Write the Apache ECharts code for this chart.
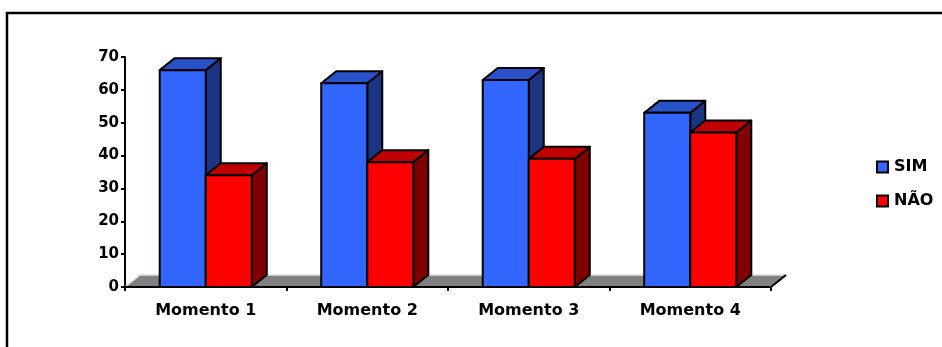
<!DOCTYPE html>
<html>
<head>
<meta charset="utf-8">
<script src="https://cdn.jsdelivr.net/npm/echarts@6/dist/echarts.min.js"></script>
<style>
html,body{margin:0;padding:0;background:#fff;}
#chart{width:942px;height:347px;}
</style>
</head>
<body>
<div id="chart"></div>
<script>
var categories = ['Momento 1', 'Momento 2', 'Momento 3', 'Momento 4'];
var simValues = [66, 62, 63, 53];
var naoValues = [34, 38, 39, 47];
var yTicks = [0, 10, 20, 30, 40, 50, 60, 70];

// profundidade do efeito 3D (px)
var DX = 15, DY = -12;
var FONT = 'DejaVu Sans';

function bar3d(slot, front, topc, side){
	return function(params, api){
		var base = api.coord([api.value(0), 0]);
		var top = api.coord([api.value(0), api.value(1)]);
		var bw = api.size([1, 0])[0] * 0.285;
		var x0 = base[0] + slot * bw;
		var st = {stroke: '#000', lineWidth: 2, lineJoin: 'round'};
		return {
			type: 'group',
			children: [{
				type: 'polygon',
				shape: {points: [[x0 + bw, top[1]], [x0 + bw + DX, top[1] + DY], [x0 + bw + DX, base[1] + DY], [x0 + bw, base[1]]]},
				style: Object.assign({fill: side}, st)
			}, {
				type: 'polygon',
				shape: {points: [[x0, top[1]], [x0 + DX, top[1] + DY], [x0 + bw + DX, top[1] + DY], [x0 + bw, top[1]]]},
				style: Object.assign({fill: topc}, st)
			}, {
				type: 'rect',
				shape: {x: x0, y: top[1], width: bw, height: base[1] - top[1]},
				style: Object.assign({fill: front}, st)
			}]
		};
	};
}

function floor(params, api){
	var c = params.coordSys;
	var yb = c.y + c.height;
	return {
		type: 'group',
		children: [{
			type: 'polygon',
			shape: {points: [[c.x, yb], [c.x + DX, yb + DY], [c.x + c.width + DX, yb + DY], [c.x + c.width, yb]]},
			style: {fill: '#808080'}
		}, {
			type: 'polyline',
			shape: {points: [[c.x, yb], [c.x + DX, yb + DY], [c.x + c.width + DX, yb + DY]]},
			style: {stroke: '#e0e0e0', lineWidth: 1.5, fill: null}
		}, {
			type: 'line',
			shape: {x1: c.x + c.width, y1: yb, x2: c.x + c.width + DX, y2: yb + DY},
			style: {stroke: '#000', lineWidth: 2}
		}]
	};
}

var myChart = echarts.init(document.getElementById('chart'));
var option = {
	animation: false,
	textStyle: {fontFamily: FONT, fontWeight: 'bold', color: '#000'},
	graphic: [{
		type: 'rect',
		shape: {x: 7, y: 13, width: 960, height: 360},
		style: {fill: null, stroke: '#000', lineWidth: 2.5},
		z: 0
	}],
	grid: {left: 125, top: 57, right: 171, bottom: 60},
	legend: {
		orient: 'vertical',
		left: 871,
		top: 154,
		itemWidth: 11,
		itemHeight: 11,
		itemGap: 18,
		icon: 'rect',
		textStyle: {fontFamily: FONT, fontWeight: 'bold', fontSize: 16, color: '#000', padding: [0, 0, 0, 1]},
		data: [
			{name: 'SIM', itemStyle: {color: '#3366ff', borderColor: '#000', borderWidth: 2}},
			{name: 'NÃO', itemStyle: {color: '#ff0000', borderColor: '#000', borderWidth: 2}}
		]
	},
	xAxis: {
		type: 'category',
		data: categories,
		z: 5,
		axisLine: {lineStyle: {color: '#000', width: 2}},
		axisTick: {show: true, length: 4, lineStyle: {color: '#000', width: 2}},
		axisLabel: {margin: 16, fontSize: 16, fontWeight: 'bold', color: '#000', fontFamily: FONT},
		splitLine: {show: false}
	},
	yAxis: {
		type: 'value',
		min: yTicks[0],
		max: yTicks[yTicks.length - 1],
		interval: 10,
		axisLine: {show: true, lineStyle: {color: '#000', width: 2}},
		axisTick: {show: true, length: 4, lineStyle: {color: '#000', width: 2}},
		axisLabel: {margin: 6, fontSize: 15, fontWeight: 'bold', color: '#000', fontFamily: FONT},
		splitLine: {show: false}
	},
	series: [{
		name: 'floor',
		type: 'custom',
		renderItem: floor,
		data: [[0, 0]],
		z: 1,
		silent: true
	}, {
		name: 'SIM',
		type: 'custom',
		renderItem: bar3d(-1, '#3366ff', '#2a52c8', '#1c3582'),
		itemStyle: {color: '#3366ff'},
		encode: {x: 0, y: 1},
		data: simValues.map(function(v, i){ return [i, v]; }),
		z: 2
	}, {
		name: 'NÃO',
		type: 'custom',
		renderItem: bar3d(0, '#ff0000', '#c00000', '#800000'),
		itemStyle: {color: '#ff0000'},
		encode: {x: 0, y: 1},
		data: naoValues.map(function(v, i){ return [i, v]; }),
		z: 3
	}]
};
myChart.setOption(option);
</script>
</body>
</html>
